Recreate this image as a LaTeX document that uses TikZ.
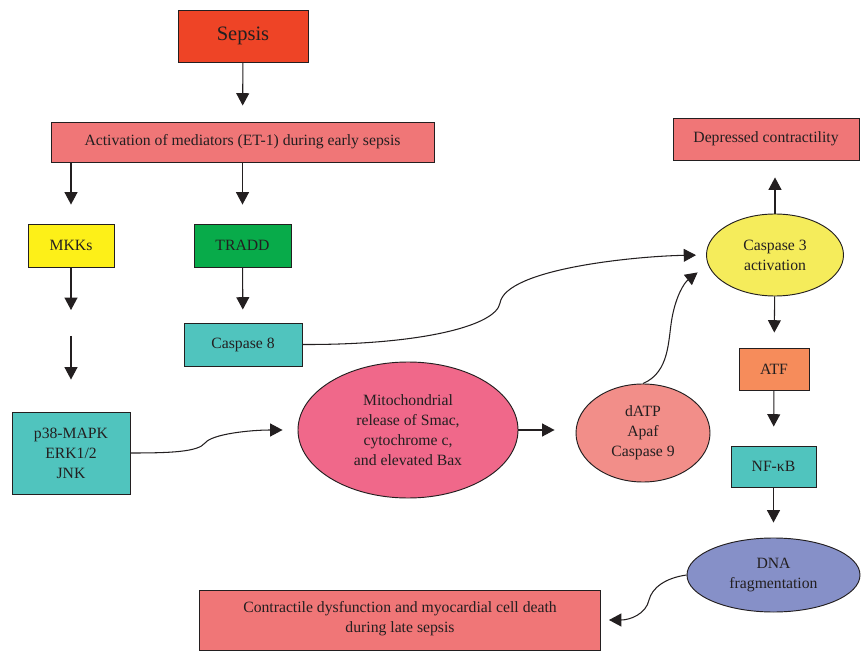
\documentclass[tikz,border=0pt]{standalone}
\usepackage{fontspec}
\setmainfont{Liberation Serif}
\usetikzlibrary{arrows.meta, shapes.geometric}

\definecolor{sepsisred}{RGB}{238,68,38}
\definecolor{salmon}{RGB}{240,118,119}
\definecolor{mkkyellow}{RGB}{253,240,24}
\definecolor{traddgreen}{RGB}{8,171,74}
\definecolor{teal}{RGB}{80,196,190}
\definecolor{mitopink}{RGB}{240,104,138}
\definecolor{datppink}{RGB}{242,142,137}
\definecolor{caspyellow}{RGB}{245,236,91}
\definecolor{atforange}{RGB}{246,140,91}
\definecolor{dnablue}{RGB}{134,144,200}
\definecolor{inkgray}{RGB}{35,31,32}

\begin{document}
\begin{tikzpicture}[x=0.03cm, y=-0.03cm,
  font=\fontsize{13.4}{17}\selectfont, text=inkgray,
  box/.style={draw=inkgray, line width=0.8pt, rectangle, align=center, inner sep=2pt},
  oval/.style={draw=inkgray, line width=0.8pt, ellipse, align=center, inner sep=0pt},
  arr/.style={draw=inkgray, line width=0.9pt, -{Triangle[length=10.5pt,width=11pt]}}]
\useasboundingbox (0,0) rectangle (862,652);

% boxes
\node[box, fill=sepsisred, minimum width=3.9cm, minimum height=1.56cm,
  font=\fontsize{17.5}{20}\selectfont] (sepsis) at (243,36) {Sepsis};
\node[box, fill=salmon, minimum width=11.49cm, minimum height=1.2cm] (act) at (242.5,142)
  {Activation of mediators (ET-1) during early sepsis};
\node[box, fill=mkkyellow, minimum width=2.58cm, minimum height=1.29cm] (mkk) at (71,245.5) {MKKs};
\node[box, fill=traddgreen, minimum width=2.91cm, minimum height=1.29cm] (tradd) at (242.5,245.5) {TRADD};
\node[box, fill=teal, minimum width=3.54cm, minimum height=1.29cm] (casp8) at (243,344.5) {Caspase 8};
\node[box, fill=teal, minimum width=3.54cm, minimum height=2.46cm] (p38) at (71,453) {p38-MAPK\\ERK1/2\\JNK};
\node[oval, fill=mitopink, minimum width=6.6cm, minimum height=4.08cm] (mito) at (408,430)
  {Mitochondrial\\release of Smac,\\cytochrome c,\\and elevated Bax};
\node[oval, fill=datppink, minimum width=4.02cm, minimum height=2.94cm] (datp) at (643,433) {dATP\\Apaf\\Caspase 9};
\node[oval, fill=caspyellow, minimum width=4.11cm, minimum height=2.46cm] (casp3) at (775,255) {Caspase 3\\activation};
\node[box, fill=salmon, minimum width=5.58cm, minimum height=1.26cm] (depr) at (766,139) {Depressed contractility};
\node[box, fill=atforange, minimum width=2.1cm, minimum height=1.26cm] (atf) at (774,369) {ATF};
\node[box, fill=teal, minimum width=2.55cm, minimum height=1.23cm] (nfkb) at (773.5,466.5) {NF-κB};
\node[oval, fill=dnablue, minimum width=5.19cm, minimum height=2.22cm] (dna) at (773.5,575) {DNA\\fragmentation};
\node[box, fill=salmon, minimum width=12.03cm, minimum height=1.8cm, text depth=0.2cm] (final) at (400,620)
  {Contractile dysfunction and myocardial cell death\\during late sepsis};

\coordinate (mkka) at (71,310);
\coordinate (mkkb) at (71,336);

% straight arrows
\draw[arr, shorten >=0.48cm] (sepsis) -- (act);
\draw[arr, shorten >=0.57cm] (act.south -| mkk.north) -- (mkk.north);
\draw[arr, shorten >=0.57cm] (act.south -| tradd.north) -- (tradd.north);
\draw[arr] (mkk) -- (mkka);
\draw[arr, shorten >=0.96cm] (mkkb) -- (p38.north);
\draw[arr, shorten >=0.39cm] (tradd) -- (casp8);
\draw[arr, shorten >=0.63cm] (mito.east) -- (mito.east -| datp.west);
\draw[arr, shorten >=0.51cm] (casp3.north) -- (casp3.north |- depr.south);
\draw[arr, shorten >=0.45cm] (casp3) -- (atf);
\draw[arr, shorten >=0.57cm] (atf) -- (nfkb);
\draw[arr, shorten >=0.45cm] (nfkb) -- (dna);

% curved arrows
\draw[arr, shorten >=0.45cm] (p38.east) .. controls (170,453) and (198,452) .. (205,443)
  .. controls (212,434) and (250,430) .. (mito.west);
\draw[arr, shorten >=0.3cm] (casp8.east) .. controls (420,345) and (496,326) .. (500,303)
  .. controls (506,268) and (640,256) .. (casp3.west);
\draw[arr, shorten >=0.39cm] (datp.north) .. controls (670,372) and (668,340) .. (672,318)
  .. controls (676,296) and (684,283) .. (casp3.188);
\draw[arr, shorten >=0.24cm] (dna.west) .. controls (665,578) and (652,588) .. (649,600)
  .. controls (646,614) and (630,620) .. (final.east);
\end{tikzpicture}
\end{document}
